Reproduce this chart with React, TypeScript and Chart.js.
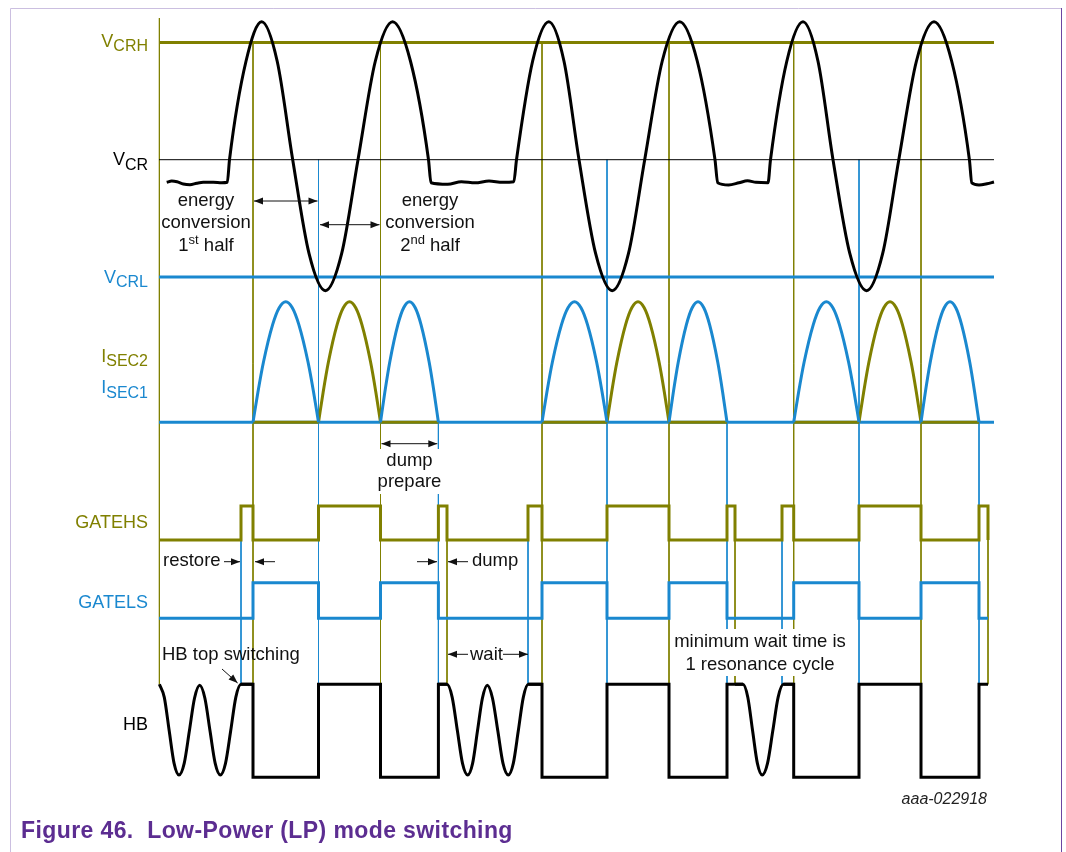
import React, { useEffect, useRef } from "react";
import { Chart, registerables } from "chart.js";

Chart.register(...registerables);

// ---------------- data (time axis in arbitrary time units) ----------------
const T_MIN = 159;
const T_MAX = 994;

// Resonant capacitor voltage, levels: V_CRH = +1, V_CR = 0, V_CRL = -1
const VCR_WAVE: [number, number][] = [
  [166.7, -0.193], [171.7, -0.182], [177, -0.188], [183.3, -0.207], [190, -0.213], [196.7, -0.201],
  [203.3, -0.193], [213.3, -0.193], [221.7, -0.197], [227.3, -0.193],
  [229.5, 0], [246, 0.84], [261.7, 1.177], [277.2, 0.84], [292.7, 0], [309, -0.8], [325.4, -1.118],
  [341.7, -0.8], [358, 0], [375.3, 0.84], [392.6, 1.177], [410.5, 0.84], [428.5, 0], [431, -0.197],
  [447.7, -0.21], [461.4, -0.188], [475.2, -0.197], [489, -0.182], [502.7, -0.193], [513.8, -0.188],
  [516.5, 0], [532.6, 0.84], [548.8, 1.177], [564, 0.84], [579, 0], [595.6, -0.8], [612.2, -1.118],
  [628.5, -0.8], [644.7, 0], [662.2, 0.84], [679.7, 1.177], [697.3, 0.84], [715, 0], [717.7, -0.197],
  [728.6, -0.216], [739, -0.197], [747.5, -0.18], [756, -0.193], [768, -0.197],
  [770.5, 0], [786.8, 0.84], [803, 1.177], [818, 0.84], [833, 0], [849.8, -0.8], [866.6, -1.118],
  [882.7, -0.8], [898.8, 0], [916.4, 0.84], [934, 1.177], [951.7, 0.84], [969.4, 0], [971.8, -0.197],
  [979, -0.215], [987, -0.205], [994, -0.19],
];

// Secondary current conduction intervals
const ISEC1_INTERVALS: [number, number][] = [
  [253, 318.5], [380.5, 438.4], [542, 607], [669, 727], [793.7, 859], [921, 979],
];
const ISEC2_INTERVALS: [number, number][] = [[318.5, 380.5], [607, 669], [859, 921]];
// current pulse profile (fraction of interval, fraction of peak)
const HUMP_POS = [0, 0.075, 0.16, 0.3, 0.4, 0.5, 0.6, 0.7, 0.84, 0.925, 1];
const HUMP_VAL = [0, 0.25, 0.5, 0.81, 0.95, 1, 0.95, 0.81, 0.5, 0.25, 0];

// Gate drive edges (level toggles at each edge, starts low)
const GATEHS_EDGES = [241, 253, 318.5, 380.5, 438.4, 447, 528, 542, 607, 669, 727, 735, 782, 793.7, 859, 921, 979, 988];
const GATELS_EDGES = [253, 318.5, 380.5, 438.4, 542, 607, 669, 727, 793.7, 859, 921, 979];
const GATE_END = 988;

// Half-bridge node: hard-switched parts (1 = high, 0 = low, null = gap)
const HB_SQUARE: [number, number | null][] = [
  [241, 1], [253, 1], [253, 0], [318.5, 0], [318.5, 1], [380.5, 1], [380.5, 0], [438.4, 0], [438.4, 1], [447, 1], [447, null],
  [528.3, 1], [542, 1], [542, 0], [607, 0], [607, 1], [669, 1], [669, 0], [727, 0], [727, 1], [743, 1], [743, null],
  [783.4, 1], [793.7, 1], [793.7, 0], [859, 0], [859, 1], [921, 1], [921, 0], [979, 0], [979, 1], [988, 1],
];
// Half-bridge node: resonant ringing during wait
const HB_RINGING: [number, number | null][] = [
  [159.4, 1], [164.3, 0.86], [169.2, 0.5], [174.1, 0.15], [179, 0.025], [184.2, 0.15], [189.4, 0.5], [194.5, 0.85],
  [199.7, 0.99], [204.9, 0.85], [210, 0.5], [215.2, 0.15], [220.4, 0.025], [225.5, 0.15], [230.7, 0.5], [235.8, 0.86],
  [241, 1], [253, 1], [253, null],
  [438.4, 1], [447, 1], [452.2, 0.86], [457.4, 0.5], [462.5, 0.15], [467.7, 0.025], [472.6, 0.15], [477.5, 0.5], [482.4, 0.85],
  [487.3, 0.99], [492.5, 0.85], [497.8, 0.5], [503, 0.15], [508.3, 0.025], [513.3, 0.15], [518.3, 0.5], [523.3, 0.86],
  [528.3, 1], [541.7, 1], [541.7, null],
  [735, 1], [743, 1], [747.8, 0.86], [752.6, 0.5], [757.4, 0.15], [762.2, 0.025], [767.5, 0.15], [772.8, 0.5], [778.1, 0.86],
  [783.4, 1], [793.7, 1],
];

// Timing guide lines, grouped by the level they start from
const GUIDES_HS_FROM_VCRH = [253, 380.5, 542, 669, 793.7, 921];
const GUIDES_LS_FROM_VCR = [318.5, 607, 859];
const GUIDES_LS_FROM_ISEC = [438.4, 727, 979];
const GUIDES_LS_FROM_GATE = [241, 528, 782];
const GUIDES_HS_FROM_GATE = [447, 735, 988];

// ---------------- styling / layout ----------------
const OLIVE = "#808000";
const BLUE = "#1a88cf";
const BLACK = "#000000";
const FONT = '"Liberation Sans", Arial, Helvetica, sans-serif';

const lane = {
  vcr: (v: number) => 159.7 - v * 117.2,
  isec: (v: number) => 422.3 - v * 120.6,
  ghs: (v: number) => 540 - v * 34,
  gls: (v: number) => 618.3 - v * 35.6,
  hb: (v: number) => 777.3 - v * 93,
};

type P = { x: number; y: number | null };

const toPts = (pairs: [number, number | null][], f: (v: number) => number): P[] =>
  pairs.map(([x, v]) => ({ x, y: v === null ? null : f(v) }));

function humps(intervals: [number, number][]): P[] {
  const out: P[] = [];
  intervals.forEach(([a, b]) => {
    HUMP_POS.forEach((fr, i) => out.push({ x: a + fr * (b - a), y: lane.isec(HUMP_VAL[i]) }));
    out.push({ x: b, y: null });
  });
  return out;
}

function gate(edges: number[], end: number, f: (v: number) => number): P[] {
  let lvl = 0;
  const out: P[] = [{ x: T_MIN, y: f(0) }];
  edges.forEach((e) => {
    lvl = 1 - lvl;
    out.push({ x: e, y: f(lvl) });
  });
  if ((out[out.length - 1].x as number) < end) out.push({ x: end, y: f(lvl) });
  return out;
}

function ds(data: P[], color: string, width: number, extra: Record<string, unknown> = {}) {
  return {
    data,
    borderColor: color,
    borderWidth: width,
    pointRadius: 0,
    pointHoverRadius: 0,
    fill: false,
    clip: false as const,
    tension: 0,
    borderJoinStyle: "miter" as const,
    capBezierPoints: false,
    ...extra,
  };
}
const smooth = { cubicInterpolationMode: "monotone" as const };

function guideSets(xs: number[], top: number, color: string) {
  return xs.map((x) => ds([{ x, y: top }, { x, y: lane.hb(1) }], color, 1));
}

function isec2Base(): P[] {
  const out: P[] = [];
  ISEC1_INTERVALS.forEach(([a, b]) => {
    out.push({ x: a, y: lane.isec(0) }, { x: b, y: lane.isec(0) }, { x: b, y: null });
  });
  return out;
}

// ---------------- annotation helpers ----------------
type Run = [string, number, number];
function runs(ctx: CanvasRenderingContext2D, parts: Run[], x: number, y: number, align: string, color: string, weight = "normal", style = "normal") {
  const widths = parts.map(([t, s]) => {
    ctx.font = `${style} ${weight} ${s}px ${FONT}`;
    return ctx.measureText(t).width;
  });
  const total = widths.reduce((a, b) => a + b, 0);
  let cx = align === "left" ? x : align === "right" ? x - total : x - total / 2;
  ctx.fillStyle = color;
  ctx.textAlign = "left";
  ctx.textBaseline = "alphabetic";
  parts.forEach(([t, s, dy], i) => {
    ctx.font = `${style} ${weight} ${s}px ${FONT}`;
    ctx.fillText(t, cx, y + dy);
    cx += widths[i];
  });
}

function head(ctx: CanvasRenderingContext2D, tx: number, ty: number, fx: number, fy: number) {
  const a = Math.atan2(ty - fy, tx - fx);
  const L = 9, W = 3.5;
  ctx.beginPath();
  ctx.moveTo(tx, ty);
  ctx.lineTo(tx - L * Math.cos(a) + W * Math.sin(a), ty - L * Math.sin(a) - W * Math.cos(a));
  ctx.lineTo(tx - L * Math.cos(a) - W * Math.sin(a), ty - L * Math.sin(a) + W * Math.cos(a));
  ctx.closePath();
  ctx.fill();
}
function arrow(ctx: CanvasRenderingContext2D, x1: number, y1: number, x2: number, y2: number, both = false) {
  ctx.strokeStyle = "#111";
  ctx.fillStyle = "#111";
  ctx.lineWidth = 1;
  ctx.beginPath();
  ctx.moveTo(x1, y1);
  ctx.lineTo(x2, y2);
  ctx.stroke();
  head(ctx, x2, y2, x1, y1);
  if (both) head(ctx, x1, y1, x2, y2);
}

const annotations = {
  id: "annotations",
  afterDatasetsDraw(chart: Chart) {
    const ctx = chart.ctx;
    const xs = chart.scales.x;
    const ys = chart.scales.y;
    const X = (t: number) => xs.getPixelForValue(t);
    const Y = (v: number) => ys.getPixelForValue(v);
    ctx.save();

    // white boxes behind text that sits over guide lines
    ctx.fillStyle = "#ffffff";
    ctx.fillRect(X(376), Y(449), X(444) - X(376), Y(494) - Y(449));
    ctx.fillRect(X(671), Y(629), X(850) - X(671), Y(676) - Y(629));

    // signal names
    const S = 18, s = 16, d = 4.5;
    runs(ctx, [["V", S, 0], ["CRH", s, d]], 148, 46.5, "right", OLIVE);
    runs(ctx, [["V", S, 0], ["CR", s, d]], 148, 165, "right", BLACK);
    runs(ctx, [["V", S, 0], ["CRL", s, d]], 148, 282.5, "right", BLUE);
    runs(ctx, [["I", S, 0], ["SEC2", s, d]], 148, 361.5, "right", OLIVE);
    runs(ctx, [["I", S, 0], ["SEC1", s, d]], 148, 393, "right", BLUE);
    runs(ctx, [["GATEHS", S, 0]], 148, 528, "right", OLIVE);
    runs(ctx, [["GATELS", S, 0]], 148, 608, "right", BLUE);
    runs(ctx, [["HB", S, 0]], 148, 730, "right", BLACK);

    const TXT = "#111";
    const A = 18.5;
    // energy conversion notes
    runs(ctx, [["energy", A, 0]], 206, 206, "center", TXT);
    runs(ctx, [["conversion", A, 0]], 206, 228, "center", TXT);
    runs(ctx, [["1", A, 0], ["st", 13, -7], [" half", A, 0]], 206, 250.5, "center", TXT);
    runs(ctx, [["energy", A, 0]], 430, 206, "center", TXT);
    runs(ctx, [["conversion", A, 0]], 430, 228, "center", TXT);
    runs(ctx, [["2", A, 0], ["nd", 13, -7], [" half", A, 0]], 430, 250.5, "center", TXT);
    arrow(ctx, X(254), Y(201), X(317.5), Y(201), true);
    arrow(ctx, X(320), Y(224.7), X(379.5), Y(224.7), true);

    // dump prepare
    arrow(ctx, X(381.5), Y(443.7), X(437.3), Y(443.7), true);
    runs(ctx, [["dump", A, 0]], 409.5, 465.5, "center", TXT);
    runs(ctx, [["prepare", A, 0]], 409.5, 486.5, "center", TXT);

    // restore / dump
    runs(ctx, [["restore", A, 0]], 163, 566, "left", TXT);
    arrow(ctx, X(224), Y(561.7), X(240), Y(561.7));
    arrow(ctx, X(275), Y(561.7), X(255), Y(561.7));
    arrow(ctx, X(417), Y(561.7), X(437), Y(561.7));
    arrow(ctx, X(468), Y(561.7), X(448), Y(561.7));
    runs(ctx, [["dump", A, 0]], 472, 566, "left", TXT);

    // wait
    arrow(ctx, X(468), Y(654.3), X(448), Y(654.3));
    runs(ctx, [["wait", A, 0]], 470, 659.5, "left", TXT);
    arrow(ctx, X(503), Y(654.3), X(528), Y(654.3));

    // HB top switching
    runs(ctx, [["HB top switching", A, 0]], 162, 660, "left", TXT);
    arrow(ctx, X(222), Y(669), X(237.6), Y(683));

    // minimum wait time
    runs(ctx, [["minimum wait time is", A, 0]], 760, 646.5, "center", TXT);
    runs(ctx, [["1 resonance cycle", A, 0]], 760, 670, "center", TXT);

    // figure id
    runs(ctx, [["aaa-022918", 16, 0]], 987, 804, "right", "#222", "normal", "italic");

    // frame
    ctx.lineWidth = 1;
    ctx.strokeStyle = "#cbbfe0";
    ctx.beginPath();
    ctx.moveTo(10.5, 852);
    ctx.lineTo(10.5, 8.5);
    ctx.lineTo(1061, 8.5);
    ctx.stroke();
    ctx.strokeStyle = "#6b46a3";
    ctx.beginPath();
    ctx.moveTo(1061.5, 8);
    ctx.lineTo(1061.5, 852);
    ctx.stroke();

    // caption
    (ctx as any).letterSpacing = "0.4px";
    runs(ctx, [["Figure 46.  Low-Power (LP) mode switching", 23, 0]], 21, 838, "left", "#5c2d91", "bold");
    (ctx as any).letterSpacing = "0px";
    ctx.restore();
  },
};

export default function App() {
  const ref = useRef<HTMLCanvasElement>(null);
  useEffect(() => {
    const canvas = ref.current;
    if (!canvas) return;
    const datasets = [
      ds(toPts(VCR_WAVE, lane.vcr), BLACK, 3, smooth),
      ds(toPts(HB_RINGING, lane.hb), BLACK, 3, smooth),
      ds(toPts(HB_SQUARE, lane.hb), BLACK, 3),
      ds(humps(ISEC1_INTERVALS), BLUE, 3, smooth),
      ds(humps(ISEC2_INTERVALS), OLIVE, 3, smooth),
      ds(isec2Base(), OLIVE, 3),
      ds([{ x: T_MIN, y: lane.isec(0) }, { x: T_MAX, y: lane.isec(0) }], BLUE, 3),
      ds(gate(GATEHS_EDGES, GATE_END, lane.ghs), OLIVE, 3, { stepped: true }),
      ds(gate(GATELS_EDGES, GATE_END, lane.gls), BLUE, 3, { stepped: true }),
      ds([{ x: T_MIN, y: lane.vcr(1) }, { x: T_MAX, y: lane.vcr(1) }], OLIVE, 3),
      ds([{ x: T_MIN, y: lane.vcr(-1) }, { x: T_MAX, y: lane.vcr(-1) }], BLUE, 3),
      ds([{ x: T_MIN, y: lane.vcr(0) }, { x: T_MAX, y: lane.vcr(0) }], BLACK, 1),
      ...guideSets(GUIDES_HS_FROM_VCRH, lane.vcr(1), OLIVE),
      ...guideSets(GUIDES_LS_FROM_VCR, lane.vcr(0), BLUE),
      ...guideSets(GUIDES_LS_FROM_ISEC, lane.isec(0), BLUE),
      ...guideSets(GUIDES_LS_FROM_GATE, lane.ghs(0), BLUE),
      ...guideSets(GUIDES_HS_FROM_GATE, lane.ghs(0), OLIVE),
      ds([{ x: 159.4, y: 18 }, { x: 159.4, y: lane.hb(1) }], OLIVE, 1),
    ];
    const chart = new Chart(canvas, {
      type: "line",
      data: { datasets: datasets as any },
      options: {
        responsive: false,
        animation: false,
        devicePixelRatio: 1,
        events: [],
        layout: { padding: { left: 159, right: 72, top: 18, bottom: 62 } },
        scales: {
          x: { type: "linear", min: T_MIN, max: T_MAX, display: false },
          y: { type: "linear", min: 18, max: 790, reverse: true, display: false },
        },
        plugins: { legend: { display: false }, tooltip: { enabled: false }, title: { display: false } },
      },
      plugins: [annotations],
    });
    return () => chart.destroy();
  }, []);
  return (
    <div style={{ position: "absolute", left: 0, top: 0, width: 1066, height: 852, background: "#ffffff" }}>
      <canvas ref={ref} width={1066} height={852} style={{ display: "block", width: 1066, height: 852 }} />
    </div>
  );
}
